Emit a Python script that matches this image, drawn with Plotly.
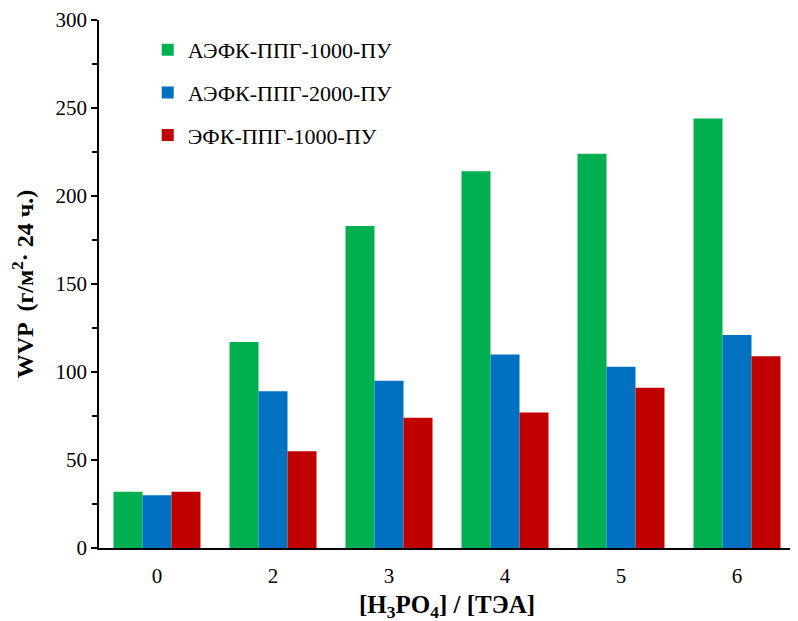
import plotly.graph_objects as go

categories = ["0", "2", "3", "4", "5", "6"]
series_names = ["АЭФК-ППГ-1000-ПУ", "АЭФК-ППГ-2000-ПУ", "ЭФК-ППГ-1000-ПУ"]
green_vals = [32, 117, 183, 214, 224, 244]
blue_vals = [30, 89, 95, 110, 103, 121]
red_vals = [32, 55, 74, 77, 91, 109]
colors = ["#00B050", "#0070C0", "#C00000"]

FONT = "Liberation Serif"

fig = go.Figure()
for i, (name, vals) in enumerate(zip(series_names, [green_vals, blue_vals, red_vals])):
    fig.add_trace(go.Bar(
        x=categories, y=vals, name=name, legendgroup=f"g{i}",
        marker=dict(color=colors[i], line=dict(width=0)),
    ))

fig.update_layout(
    template="none",
    width=798, height=621,
    margin=dict(l=91, r=11, t=12, b=81),
    paper_bgcolor="white", plot_bgcolor="white",
    barmode="group", bargap=0.25, bargroupgap=0,
    font=dict(family=FONT, color="black", size=21),
    showlegend=True,
    legend=dict(x=0.07, y=0.983, xanchor="left", yanchor="top",
                font=dict(family=FONT, size=22, color="black"),
                bgcolor="rgba(0,0,0,0)", tracegroupgap=11,
                itemwidth=30),
    xaxis=dict(
        type="category", showline=True, linecolor="black", linewidth=2,
        ticks="outside", ticklen=8, tickcolor="rgba(0,0,0,0)",
        showgrid=False, automargin=False,
        tickfont=dict(size=21, family=FONT),
        title=dict(text="<b>[H<sub>3</sub>PO<sub>4</sub>] / [ТЭА]</b>",
                   font=dict(size=25, family=FONT), standoff=8),
    ),
    yaxis=dict(
        range=[0, 300], tickvals=[0, 50, 100, 150, 200, 250, 300],
        showline=True, linecolor="black", linewidth=1.5, automargin=False,
        ticks="outside", ticklen=6, tickwidth=1.5, tickcolor="black",
        minor=dict(tickvals=[25, 75, 125, 175, 225, 275], ticks="outside",
                   ticklen=5, tickwidth=1.5, tickcolor="black"),
        showgrid=False, zeroline=False,
        tickfont=dict(size=21, family=FONT),
        title=dict(text="<b>WVP  (г/м<sup>2</sup>· 24 ч.)</b>",
                   font=dict(size=24, family=FONT), standoff=16),
    ),
)

fig.write_html("out.html")
